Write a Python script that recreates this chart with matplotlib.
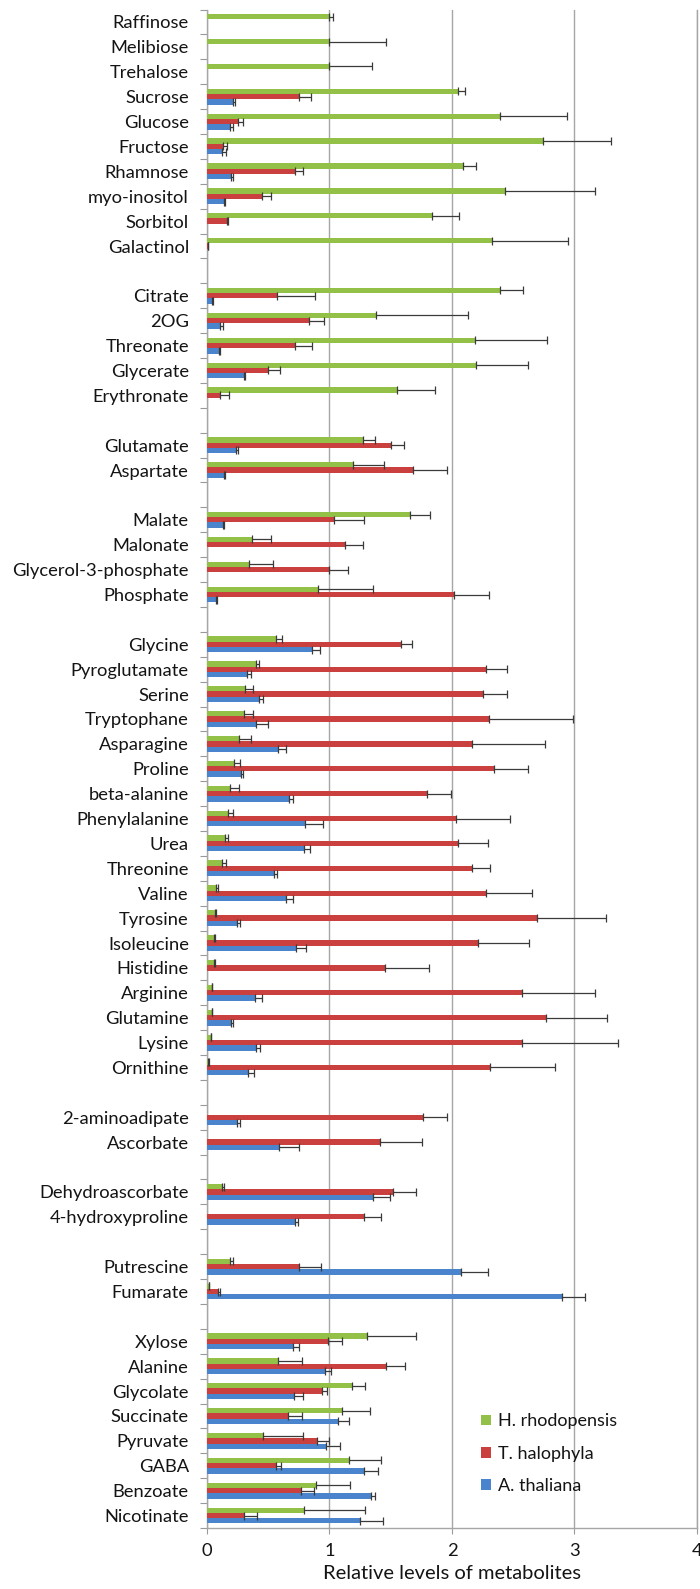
import numpy as np
import matplotlib
matplotlib.use("Agg")
import matplotlib.pyplot as plt
from matplotlib.patches import Patch

plt.rcParams['font.family'] = ['Lato', 'DejaVu Sans']

# Metabolites, top to bottom; empty strings separate the groups
categories = [
    "Raffinose", "Melibiose", "Trehalose", "Sucrose", "Glucose", "Fructose",
    "Rhamnose", "myo-inositol", "Sorbitol", "Galactinol", "",
    "Citrate", "2OG", "Threonate", "Glycerate", "Erythronate", "",
    "Glutamate", "Aspartate", "",
    "Malate", "Malonate", "Glycerol-3-phosphate", "Phosphate", "",
    "Glycine", "Pyroglutamate", "Serine", "Tryptophane", "Asparagine", "Proline",
    "beta-alanine", "Phenylalanine", "Urea", "Threonine", "Valine", "Tyrosine",
    "Isoleucine", "Histidine", "Arginine", "Glutamine", "Lysine", "Ornithine", "",
    "2-aminoadipate", "Ascorbate", "",
    "Dehydroascorbate", "4-hydroxyproline", "",
    "Putrescine", "Fumarate", "",
    "Xylose", "Alanine", "Glycolate", "Succinate", "Pyruvate", "GABA",
    "Benzoate", "Nicotinate",
]

nan = np.nan

h_rhodopensis = [
    1.00, 1.00, 1.00, 2.05, 2.39, 2.74, 2.09, 2.43, 1.84, 2.33, nan,
    2.39, 1.38, 2.19, 2.20, 1.55, nan,
    1.27, 1.19, nan,
    1.66, 0.37, 0.34, 0.91, nan,
    0.56, 0.40, 0.31, 0.30, 0.26, 0.22, 0.19, 0.17, 0.15, 0.12, 0.07, 0.066,
    0.055, 0.055, 0.037, 0.037, 0.029, 0.011, nan,
    nan, nan, nan,
    0.12, nan, nan,
    0.19, 0.015, nan,
    1.31, 0.58, 1.18, 1.10, 0.46, 1.16, 0.89, 0.79,
]
h_rhodopensis_err = [
    0.03, 0.46, 0.35, 0.055, 0.545, 0.56, 0.11, 0.735, 0.215, 0.62, nan,
    0.19, 0.754, 0.585, 0.417, 0.315, nan,
    0.10, 0.256, nan,
    0.157, 0.153, 0.197, 0.443, nan,
    0.055, 0.022, 0.062, 0.077, 0.10, 0.05, 0.073, 0.044, 0.018, 0.033, 0.018, 0.007,
    0.007, 0.007, 0.007, 0.007, 0.005, 0.005, nan,
    nan, nan, nan,
    0.022, nan, nan,
    0.022, 0.005, nan,
    0.40, 0.194, 0.113, 0.23, 0.322, 0.26, 0.274, 0.50,
]

t_halophyla = [
    nan, nan, nan, 0.75, 0.25, 0.13, 0.72, 0.45, 0.165, 0.005, nan,
    0.57, 0.83, 0.72, 0.50, 0.11, nan,
    1.50, 1.68, nan,
    1.04, 1.13, 1.00, 2.02, nan,
    1.585, 2.28, 2.25, 2.30, 2.16, 2.34, 1.80, 2.03, 2.05, 2.16, 2.28, 2.69,
    2.21, 1.45, 2.57, 2.77, 2.57, 2.31, nan,
    1.76, 1.41, nan,
    1.515, 1.285, nan,
    0.75, 0.09, nan,
    0.99, 1.46, 0.94, 0.66, 0.90, 0.56, 0.77, 0.30,
]
t_halophyla_err = [
    nan, nan, nan, 0.10, 0.045, 0.03, 0.066, 0.07, 0.01, 0.005, nan,
    0.31, 0.125, 0.135, 0.10, 0.066, nan,
    0.11, 0.278, nan,
    0.238, 0.146, 0.15, 0.285, nan,
    0.09, 0.172, 0.20, 0.69, 0.60, 0.278, 0.194, 0.447, 0.242, 0.15, 0.377, 0.57,
    0.417, 0.359, 0.597, 0.497, 0.783, 0.527, nan,
    0.20, 0.348, nan,
    0.19, 0.139, nan,
    0.18, 0.015, nan,
    0.11, 0.154, 0.04, 0.113, 0.10, 0.047, 0.10, 0.11,
]

a_thaliana = [
    nan, nan, nan, 0.21, 0.19, 0.12, 0.20, 0.14, nan, nan, nan,
    0.044, 0.106, 0.095, 0.30, nan, nan,
    0.24, 0.135, nan,
    0.13, nan, nan, 0.073, nan,
    0.856, 0.326, 0.425, 0.40, 0.58, 0.28, 0.673, 0.80, 0.79, 0.545, 0.644, 0.242,
    0.728, nan, 0.392, 0.198, 0.403, 0.337, nan,
    0.242, 0.589, nan,
    1.358, 0.717, nan,
    2.07, 2.895, nan,
    0.70, 0.96, 0.71, 1.07, 0.97, 1.28, 1.34, 1.25,
]
a_thaliana_err = [
    nan, nan, nan, 0.02, 0.02, 0.035, 0.01, 0.01, nan, nan, nan,
    0.005, 0.026, 0.01, 0.01, nan, nan,
    0.01, 0.01, nan,
    0.01, nan, nan, 0.01, nan,
    0.066, 0.036, 0.036, 0.095, 0.062, 0.018, 0.033, 0.143, 0.05, 0.026, 0.062, 0.03,
    0.077, nan, 0.055, 0.018, 0.03, 0.044, nan,
    0.025, 0.165, nan,
    0.135, 0.022, nan,
    0.22, 0.194, nan,
    0.055, 0.05, 0.07, 0.088, 0.117, 0.117, 0.03, 0.187,
]

series = [
    ("H. rhodopensis", h_rhodopensis, h_rhodopensis_err, "#93C047"),
    ("T. halophyla", t_halophyla, t_halophyla_err, "#C9403F"),
    ("A. thaliana", a_thaliana, a_thaliana_err, "#4A84CC"),
]

text_color = '#141414'

fig = plt.figure(figsize=(7.0, 15.89), dpi=100)
ax = fig.add_axes([0.2957, 0.0384, 0.7, 0.9556])

y = np.arange(len(categories))
bar_h = 0.213
offsets = [-bar_h, 0.0, bar_h]

for (name, vals, errs, color), off in zip(series, offsets):
    v = np.array(vals, dtype=float)
    e = np.array(errs, dtype=float)
    ax.barh(y + off, v, height=bar_h, color=color, edgecolor='none', zorder=3)
    ax.errorbar(v, y + off, xerr=[np.zeros_like(e), e], fmt='none',
                ecolor='#3a3a3a', elinewidth=0.9, capsize=2.6, capthick=0.9,
                zorder=4)

ax.set_ylim(len(categories) - 0.5, -0.5)
ax.set_xlim(0, 4)

ax.set_yticks(y)
ax.set_yticklabels(categories, fontsize=13.2, color=text_color)
ax.set_yticks(np.arange(-0.5, len(categories), 1.0), minor=True)
ax.tick_params(axis='y', which='major', length=0, pad=13)
ax.tick_params(axis='y', which='minor', length=5, width=0.8, color='#9a9a9a')

ax.set_xticks([0, 1, 2, 3, 4])
ax.set_xticklabels(["0", "1", "2", "3", "4"], fontsize=13.2, color=text_color)
ax.tick_params(axis='x', which='major', length=4, width=0.8, color='#9a9a9a', pad=7)
ax.set_xlabel("Relative levels of metabolites", fontsize=14.5, color=text_color,
              labelpad=4)

ax.grid(axis='x', color='#a6a6a6', linewidth=1.0, zorder=0)
ax.set_axisbelow(True)
ax.spines['top'].set_visible(False)
for side in ('left', 'bottom', 'right'):
    ax.spines[side].set_color('#a6a6a6')
    ax.spines[side].set_linewidth(1.0)

handles = [Patch(facecolor=c, edgecolor='none', label=n) for n, _, _, c in series]
ax.legend(handles=handles, loc='center left', bbox_to_anchor=(0.56, 0.049),
          frameon=False, fontsize=13, handlelength=0.55, handleheight=0.55,
          handletextpad=0.35, labelspacing=0.9, borderpad=0, borderaxespad=0,
          labelcolor=text_color)

fig.savefig("out.png", dpi=100, facecolor='white')
